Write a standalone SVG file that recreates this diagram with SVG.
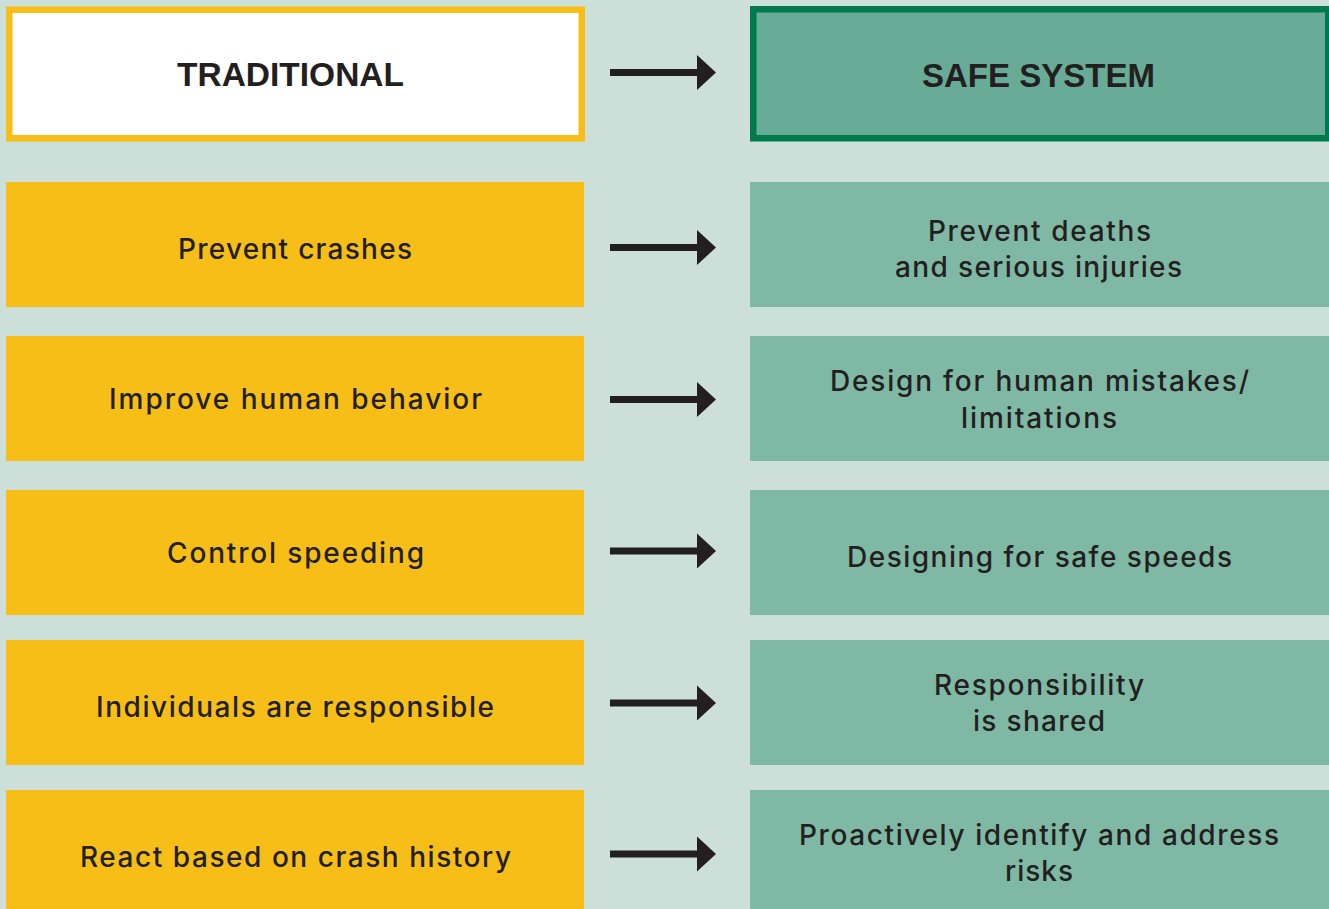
<svg xmlns="http://www.w3.org/2000/svg" width="1329" height="909" viewBox="0 0 1329 909">
<style>
.bg{fill:#CCE0D9}
.ty{fill:#F6BE17}
.sg{fill:#7FB9A5}
.t{font-family:Inter,"Liberation Sans",sans-serif;font-weight:500;font-size:28px;fill:#231F20;text-anchor:middle}
.h{font-family:"Liberation Sans",Arial,sans-serif;font-weight:700;font-size:33px;fill:#231F20;text-anchor:middle}
.shaft{stroke:#231F20;stroke-width:7;fill:none}
</style>
<defs>
<g id="arr"><rect x="610" y="-3.5" width="90" height="7" fill="#231F20"/><path d="M697,-17.5 L716,0 L697,17.5 Z" fill="#231F20"/></g>
</defs>
<rect class="bg" x="0" y="0" width="1329" height="909"/>
<g id="hdr-traditional">
<rect x="9.25" y="9.75" width="572.5" height="128.5" fill="#FFFFFF" stroke="#F6BE17" stroke-width="6.5"/>
<text class="h" x="290.5" y="86" textLength="227" lengthAdjust="spacingAndGlyphs">TRADITIONAL</text>
</g>
<g id="hdr-safe">
<rect x="753.25" y="9.25" width="575" height="129" fill="#68AC97" stroke="#007A4D" stroke-width="6.5"/>
<text class="h" x="1038.5" y="87" textLength="233" lengthAdjust="spacingAndGlyphs">SAFE SYSTEM</text>
</g>
<g id="t1"><rect class="ty" x="6" y="182" width="578" height="125"/><text class="t" x="295" y="259" textLength="234" lengthAdjust="spacing">Prevent crashes</text></g>
<g id="s1"><rect class="sg" x="750" y="182" width="579" height="125"/><text class="t" x="1039.5" y="241" textLength="223" lengthAdjust="spacing">Prevent deaths</text><text class="t" x="1038.5" y="277" textLength="287" lengthAdjust="spacing">and serious injuries</text></g>
<g id="t2"><rect class="ty" x="6" y="336" width="578" height="125"/><text class="t" x="295.5" y="409" textLength="373" lengthAdjust="spacing">Improve human behavior</text></g>
<g id="s2"><rect class="sg" x="750" y="336" width="579" height="125"/><text class="t" x="1039.5" y="391" textLength="419" lengthAdjust="spacing">Design for human mistakes/</text><text class="t" x="1039" y="428" textLength="156" lengthAdjust="spacing">limitations</text></g>
<g id="t3"><rect class="ty" x="6" y="490" width="578" height="125"/><text class="t" x="295.5" y="563" textLength="257" lengthAdjust="spacing">Control speeding</text></g>
<g id="s3"><rect class="sg" x="750" y="490" width="579" height="125"/><text class="t" x="1039.5" y="567" textLength="385" lengthAdjust="spacing">Designing for safe speeds</text></g>
<g id="t4"><rect class="ty" x="6" y="640" width="578" height="125"/><text class="t" x="295" y="717" textLength="398" lengthAdjust="spacing">Individuals are responsible</text></g>
<g id="s4"><rect class="sg" x="750" y="640" width="579" height="125"/><text class="t" x="1039" y="695" textLength="210" lengthAdjust="spacing">Responsibility</text><text class="t" x="1039" y="731" textLength="132" lengthAdjust="spacing">is shared</text></g>
<g id="t5"><rect class="ty" x="6" y="790" width="578" height="125"/><text class="t" x="295.5" y="867" textLength="431" lengthAdjust="spacing">React based on crash history</text></g>
<g id="s5"><rect class="sg" x="750" y="790" width="579" height="125"/><text class="t" x="1039" y="845" textLength="480" lengthAdjust="spacing">Proactively identify and address</text><text class="t" x="1039" y="881" textLength="68" lengthAdjust="spacing">risks</text></g>
<g id="connectors">
<use href="#arr" y="72.5"/>
<use href="#arr" y="247.5"/>
<use href="#arr" y="399.5"/>
<use href="#arr" y="551"/>
<use href="#arr" y="703"/>
<use href="#arr" y="854"/>
</g>
</svg>
